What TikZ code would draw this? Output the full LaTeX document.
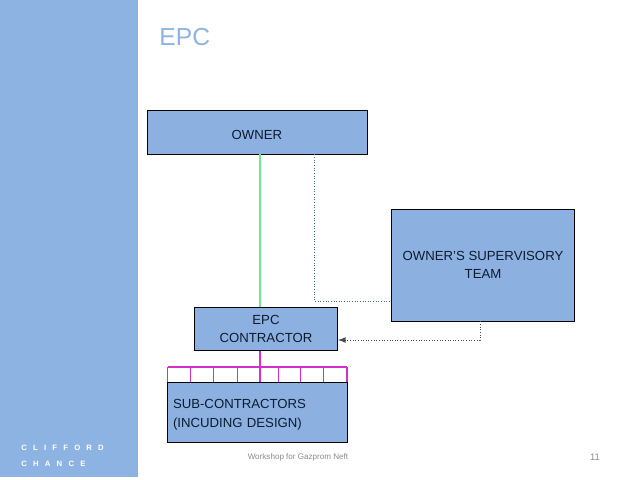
\documentclass[tikz,border=0pt]{standalone}
\usepackage{fontspec}
\setmainfont{Liberation Sans}
\newfontfamily\logofont[LetterSpace=80]{Liberation Sans}
\usepackage{xcolor}
\definecolor{bandblue}{HTML}{8DB3E2}
\definecolor{boxblue}{HTML}{8CB1E0}
\definecolor{boxtext}{HTML}{0C1C30}
\definecolor{linegreen}{HTML}{70E890}
\definecolor{linepurple}{HTML}{D030C8}
\definecolor{lineslate}{HTML}{4A6A80}
\definecolor{footgrey}{HTML}{8A8A8A}

\begin{document}
\begin{tikzpicture}[line width=.5pt]
\tikzstyle{card}=[draw=black,line width=.55pt,fill=boxblue,text=boxtext,inner sep=0pt,align=center,execute at begin node={\rule{0pt}{8.6pt}},font=\fontsize{7.5}{10.6}\selectfont]
\tikzstyle{wire}=[linepurple,line width=.6pt]
\tikzstyle{logo}=[text=white,anchor=west,inner sep=0pt,font=\logofont\bfseries\fontsize{4.4}{5}\selectfont]
\tikzstyle{foot}=[text=footgrey,inner sep=0pt,font=\fontsize{4.6}{6}\selectfont]
\useasboundingbox (0,0) rectangle (12.76,9.58);
\fill[bandblue] (0,.04) rectangle (2.76,9.58);
\node[text=bandblue,anchor=base west,inner sep=0pt,font=\fontsize{14}{16}\selectfont] (title) at (3.18,8.66) {EPC};
\node[card,minimum width=4.4cm,minimum height=.88cm] (owner) at (5.14,6.94) {OWNER};
\node[card,minimum width=3.65cm,minimum height=2.24cm] (team) at (9.66,4.28) {OWNER'S SUPERVISORY\\TEAM};
\node[card,minimum width=2.86cm,minimum height=.85cm] (epc) at (5.32,3) {EPC\\CONTRACTOR};
\node[card,minimum width=3.6cm,minimum height=1.2cm,text width=3.36cm,align=left] (subs) at (5.14,1.34) {SUB-CONTRACTORS\\(INCUDING DESIGN)};
\node[logo] (clifford) at (.42,.62) {CLIFFORD};
\node[logo] (chance) at (.42,.3) {CHANCE};
\node[foot] (workshop) at (5.96,.44) {Workshop for Gazprom Neft};
\node[foot,font=\fontsize{5.4}{6}\selectfont] (page) at (11.9,.44) {11};
\coordinate (busl) at (3.35,2.24);
\coordinate (busr) at (6.94,2.24);
\coordinate (busm) at (5.2,2.24);
\coordinate (teamin) at (6.28,3.56);
\coordinate (teamout) at (9.6,2.78);
\draw[linegreen,line width=.6pt] (epc.north -| busm) -- (owner.south -| busm);
\draw[lineslate,densely dotted] (owner.south -| teamin) -- (teamin) -- (teamin -| team.west);
\draw[black!70,densely dotted,-latex] (team.south -| teamout) -- (teamout) -- (teamout -| epc.east);
\draw[wire] (epc.south -| busm) -- (busm);
\draw[wire] (busl) -- (busr);
\foreach \tick in {3.35,3.81,4.27,4.75,5.2,5.57,6.01,6.47,6.94}
  \draw[wire] (\tick,2.24) -- (subs.north -| {\tick,0});
\end{tikzpicture}
\end{document}
